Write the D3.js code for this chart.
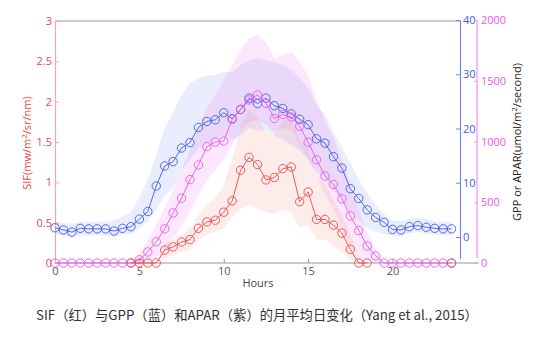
<!DOCTYPE html>
<html>
<head>
<meta charset="utf-8">
<script src="https://cdn.jsdelivr.net/npm/d3@7"></script>
<style>
  body { margin: 0; background: #fff; }
  svg text { font-family: "Open Sans", "Noto Sans", sans-serif; }
</style>
</head>
<body>
<svg id="chart" width="555" height="344"></svg>
<script>
// half-hourly means, hour 0 .. 23.5
var hours = d3.range(48).map(function (i) { return i / 2; });

var gpp = [1.7, 1.3, 0.9, 1.6, 1.5, 1.5, 1.5, 1.1, 1.6, 1.9, 3.3, 4.7, 9.4, 13.1, 13.9, 16.4,
  17.4, 20.2, 21.3, 21.6, 22.9, 21.8, 23.5, 25.6, 24.6, 25.6, 24.2, 23.7, 22.7, 21.7, 20.7, 18.1,
  17.3, 14.8, 12.7, 8.9, 7.1, 5.0, 3.6, 2.7, 1.4, 1.3, 1.9, 2.1, 1.8, 1.6, 1.5, 1.5];
var gppHi = [2.8, 2.6, 2.4, 2.8, 2.8, 2.8, 2.8, 3.1, 3.7, 4.6, 7.4, 10.5, 15.1, 20.1, 22.9, 26.2,
  28.4, 29.3, 29.7, 29.9, 30.4, 30.4, 31.7, 32.6, 33.0, 32.6, 32.3, 31.7, 30.8, 29.3, 27.5, 24.3,
  22.5, 19.4, 16.4, 13.6, 10.5, 8.1, 5.9, 4.2, 3.1, 2.9, 3.3, 3.5, 3.3, 2.9, 2.8, 2.8];
var gppLo = [0.5, 0.2, 0.0, 0.4, 0.3, 0.3, 0.3, 0.0, 0.4, 0.6, 1.5, 2.8, 5.0, 7.7, 9.0, 12.4,
  14.2, 16.4, 17.3, 17.9, 18.8, 17.9, 18.8, 20.1, 19.7, 19.7, 18.8, 17.9, 17.0, 16.0, 14.2, 12.0,
  10.9, 8.7, 6.8, 4.6, 3.1, 1.7, 0.9, 0.6, 0.2, 0.1, 0.7, 0.9, 0.6, 0.4, 0.3, 0.3];

var apar = [0, 0, 0, 0, 0, 0, 0, 0, 0, 0, 27, 91, 175, 281, 412, 533,
  686, 807, 957, 996, 1004, 1183, 1265, 1342, 1383, 1314, 1189, 1222, 1202, 1125, 994, 850,
  716, 646, 528, 387, 267, 140, 58, 0, 0, 0, 0, 0, 0, 0, 0, 0];
var aparHi = [0, 0, 0, 0, 0, 0, 0, 0, 0, 0, 66, 189, 313, 453, 601, 765,
  930, 1111, 1284, 1383, 1506, 1630, 1753, 1852, 1877, 1819, 1687, 1712, 1737, 1654, 1547, 1342,
  1177, 1029, 848, 642, 436, 255, 107, 0, 0, 0, 0, 0, 0, 0, 0, 0];
var aparLo = [0, 0, 0, 0, 0, 0, 0, 0, 0, 0, 0, 8, 41, 107, 206, 305,
  420, 560, 683, 765, 848, 971, 1095, 1160, 1177, 1136, 1078, 1111, 1095, 971, 864, 724,
  560, 436, 288, 148, 58, 8, 0, 0, 0, 0, 0, 0, 0, 0, 0, 0];

// SIF is missing for most night hours
var sif = [null, null, null, null, null, null, null, null, null, 0, 0, 0, 0, 0.16, 0.20, 0.26,
  0.29, 0.43, 0.51, 0.53, 0.63, 0.77, 1.15, 1.31, 1.22, 1.03, 1.06, 1.17, 1.19, 0.76, 0.88, 0.54,
  0.54, 0.47, 0.37, 0.17, 0, 0, null, null, null, null, null, null, null, null, null, 0];
var sifHi = [null, null, null, null, null, null, null, null, null, 0, 0, 0, 0, 0.24, 0.29, 0.36,
  0.43, 0.60, 0.72, 0.81, 0.97, 1.28, 1.71, 1.90, 1.80, 1.62, 1.59, 1.77, 1.80, 1.52, 1.40, 1.09,
  0.97, 0.78, 0.60, 0.35, 0.10, 0, null, null, null, null, null, null, null, null, null, null];
var sifLo = [null, null, null, null, null, null, null, null, null, 0, 0, 0, 0, 0.06, 0.10, 0.14,
  0.16, 0.29, 0.35, 0.38, 0.43, 0.56, 0.68, 0.72, 0.68, 0.63, 0.61, 0.66, 0.63, 0.43, 0.48, 0.29,
  0.29, 0.21, 0.14, 0.04, 0, 0, null, null, null, null, null, null, null, null, null, null];

var hourTicks = [0, 5, 10, 15, 20];
var sifTicks = [0, 0.5, 1, 1.5, 2, 2.5, 3];
var gppTicks = [0, 10, 20, 30, 40];
var aparTicks = [0, 500, 1000, 1500, 2000];

var caption = "SIF（红）与GPP（蓝）和APAR（紫）的月平均日变化（Yang et al., 2015）";

var red = "#ec4848", redAxis = "#f7a8a8";
var blue = "#3d5ce8", blueAxis = "#7088f0";
var pink = "#ee55ee", pinkAxis = "#f490f4";

var plotL = 55, plotR = 460, plotT = 21, plotB = 263;

var svg = d3.select("#chart");

var x = d3.scaleLinear().domain([0, 24]).range([plotL, plotR]);
var ySif = d3.scaleLinear().domain([0, 3]).range([plotB, plotT]);
var yGpp = d3.scaleLinear().domain([-4, 40]).range([258.7, 20]);
var yApar = d3.scaleLinear().domain([0, 2000]).range([plotB, 20]);

var plain = function (d) { return String(d); };

// top frame line
svg.append("line")
  .attr("x1", plotL).attr("x2", plotR)
  .attr("y1", plotT).attr("y2", plotT)
  .attr("stroke", "#999").attr("stroke-width", 1.2);

// shaded spreads
function band(lo, hi, y) {
  return d3.area()
    .defined(function (d, i) { return hi[i] != null; })
    .x(function (d) { return x(d); })
    .y0(function (d, i) { return y(lo[i]); })
    .y1(function (d, i) { return y(hi[i]); });
}
svg.append("path").attr("d", band(gppLo, gppHi, yGpp)(hours))
  .attr("fill", "rgb(120,140,240)").attr("fill-opacity", 0.16);
svg.append("path").attr("d", band(aparLo, aparHi, yApar)(hours))
  .attr("fill", "rgb(240,120,240)").attr("fill-opacity", 0.18);
svg.append("path").attr("d", band(sifLo, sifHi, ySif)(hours))
  .attr("fill", "rgb(248,130,115)").attr("fill-opacity", 0.15);

// bottom axis
var gx = svg.append("g")
  .attr("transform", "translate(0," + plotB + ")")
  .call(d3.axisBottom(x).tickValues(hourTicks).tickSizeInner(-4).tickSizeOuter(0).tickPadding(4));
gx.select(".domain").attr("stroke", "#999").attr("stroke-width", 1.2)
  .attr("d", "M" + plotL + ",0H479");
gx.selectAll(".tick line").attr("stroke", "#999");
gx.selectAll("text").attr("fill", "#555").style("font-size", "11px");

svg.append("text")
  .attr("x", 258).attr("y", 287)
  .attr("text-anchor", "middle")
  .attr("fill", "#444")
  .style("font-size", "11px")
  .text("Hours");

// left SIF axis
var gl = svg.append("g")
  .attr("transform", "translate(" + plotL + ",0)")
  .call(d3.axisLeft(ySif).tickValues(sifTicks).tickFormat(plain)
    .tickSizeInner(-4).tickSizeOuter(0).tickPadding(3));
gl.select(".domain").attr("stroke", redAxis).attr("stroke-width", 1.2);
gl.selectAll(".tick line").attr("stroke", redAxis);
gl.selectAll("text").attr("fill", red).style("font-size", "11px");

var tl = svg.append("text")
  .attr("transform", "translate(31,143) rotate(-90)")
  .attr("text-anchor", "middle")
  .attr("fill", red)
  .style("font-size", "11px");
tl.append("tspan").text("SIF(mw/m");
tl.append("tspan").attr("dy", -4).style("font-size", "8px").text("2");
tl.append("tspan").attr("dy", 4).text("/sr/nm)");

// right GPP axis
var gb = svg.append("g")
  .attr("transform", "translate(" + plotR + ",0)")
  .call(d3.axisRight(yGpp).tickValues(gppTicks).tickFormat(plain)
    .tickSizeInner(-4).tickSizeOuter(0).tickPadding(3));
gb.select(".domain").attr("stroke", blueAxis).attr("stroke-width", 1.2);
gb.selectAll(".tick line").attr("stroke", blueAxis);
gb.selectAll("text").attr("fill", blue).style("font-size", "11px");

// right APAR axis
var gp = svg.append("g")
  .attr("transform", "translate(477,0)")
  .call(d3.axisRight(yApar).tickValues(aparTicks).tickFormat(plain)
    .tickSizeInner(-3).tickSizeOuter(0).tickPadding(4));
gp.select(".domain").attr("stroke", pinkAxis).attr("stroke-width", 1.2)
  .attr("d", "M0," + yApar(2000) + "V258");
gp.selectAll(".tick line").attr("stroke", pinkAxis);
gp.selectAll("text").attr("fill", pink).style("font-size", "11px");

var tr = svg.append("text")
  .attr("transform", "translate(521,142) rotate(-90)")
  .attr("text-anchor", "middle")
  .attr("fill", "#222")
  .style("font-size", "11px");
tr.append("tspan").text("GPP or APAR(umol/m");
tr.append("tspan").attr("dy", -4).style("font-size", "8px").text("2");
tr.append("tspan").attr("dy", 4).text("/second)");

// series: line plus open circles
function series(vals, y, color) {
  var line = d3.line()
    .defined(function (d, i) { return vals[i] != null; })
    .x(function (d) { return x(d); })
    .y(function (d, i) { return y(vals[i]); });
  svg.append("path").attr("d", line(hours))
    .attr("fill", "none").attr("stroke", color).attr("stroke-width", 0.9);
  svg.append("g").selectAll("circle")
    .data(hours.filter(function (d, i) { return vals[i] != null; }))
    .enter().append("circle")
    .attr("cx", function (d) { return x(d); })
    .attr("cy", function (d) { return y(vals[hours.indexOf(d)]); })
    .attr("r", 4.2)
    .attr("fill", "none")
    .attr("stroke", color)
    .attr("stroke-width", 0.9);
}
series(gpp, yGpp, blue);
series(apar, yApar, pink);
series(sif, ySif, red);

svg.append("text")
  .attr("x", 36).attr("y", 320)
  .attr("fill", "#333")
  .style("font-family", "'Noto Sans CJK SC', 'Noto Sans', sans-serif")
  .style("font-size", "13.3px")
  .text(caption);
</script>
</body>
</html>
